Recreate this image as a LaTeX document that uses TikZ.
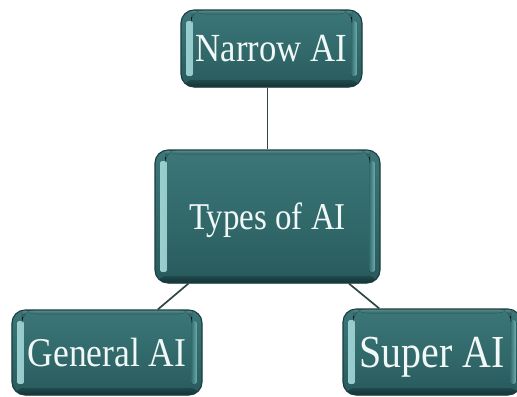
\documentclass[tikz,border=0pt]{standalone}
\usepackage{fontspec}
\newfontfamily\boxfont[FakeStretch=0.87]{Liberation Serif}

\definecolor{tealtop}{HTML}{3C7678}
\definecolor{tealmid}{HTML}{326A6C}
\definecolor{tealbot}{HTML}{285A5C}
\definecolor{tealrim}{HTML}{1A3E40}
\definecolor{glow}{HTML}{A8DCDC}
\definecolor{glowsoft}{HTML}{6FAFB0}
\definecolor{linkgray}{HTML}{2F4546}
\definecolor{textwhite}{HTML}{F2F7F7}

\tikzset{
  bevelbox/.style={
    draw=tealrim, line width=1.1bp, rounded corners=13bp,
    top color=tealtop, bottom color=tealbot, middle color=tealmid,
    inner sep=0pt, align=center, text=textwhite, text depth=0pt,
    path picture={
      % bright bevel on the left edge
      \fill[left color=glow!90!tealmid, right color=tealmid, rounded corners=2bp]
        ([xshift=5bp,yshift=-11bp]path picture bounding box.north west)
        rectangle ([xshift=12bp,yshift=11bp]path picture bounding box.south west);
      % softer bevel on the right edge
      \fill[right color=glowsoft, left color=tealmid, rounded corners=2bp]
        ([xshift=-5bp,yshift=-11bp]path picture bounding box.north east)
        rectangle ([xshift=-11bp,yshift=11bp]path picture bounding box.south east);
      % dark band along the bottom edge
      \fill[top color=tealbot, bottom color=tealrim, opacity=0.75]
        ([yshift=7bp]path picture bounding box.south west)
        rectangle (path picture bounding box.south east);
      % thin light line along the top edge
      \fill[top color=glowsoft, bottom color=tealtop, opacity=0.8]
        ([xshift=10bp]path picture bounding box.north west)
        rectangle ([xshift=-10bp,yshift=-4bp]path picture bounding box.north east);
    }
  },
  link/.style={draw=linkgray, line width=1.7bp}
}

\begin{document}
\begin{tikzpicture}[x=1bp, y=-1bp]
  \useasboundingbox[fill=white] (0,0) rectangle (517,396);

  % boxes
  \node[bevelbox, minimum width=181bp, minimum height=77bp, text height=26bp,
        font=\boxfont\fontsize{40}{44}\selectfont]
    (narrow) at (271.5,48.5) {Narrow AI};
  \node[bevelbox, minimum width=225bp, minimum height=133bp, text height=25bp,
        font=\boxfont\fontsize{38}{42}\selectfont]
    (types) at (267.5,216.5) {Types of AI};
  \node[bevelbox, minimum width=190bp, minimum height=85bp, text height=27bp,
        font=\boxfont\fontsize{41}{45}\selectfont]
    (general) at (107,352.5) {General AI};
  \node[bevelbox, minimum width=178bp, minimum height=86bp, text height=30bp,
        font=\boxfont\fontsize{46}{50}\selectfont]
    (super) at (432,352) {Super AI};

  % connectors
  \draw[link] (types.north) -- (types.north |- narrow.south);
  \draw[link] (types) -- (general);
  \draw[link] (types) -- (super);
\end{tikzpicture}
\end{document}
